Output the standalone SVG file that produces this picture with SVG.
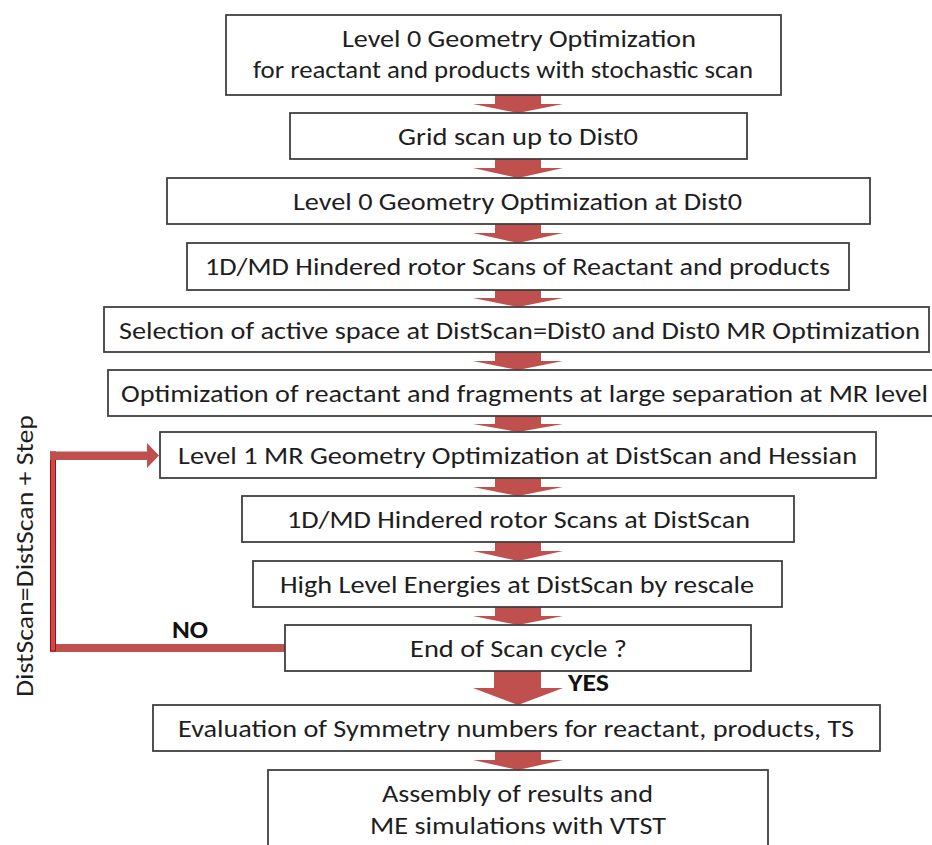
<svg xmlns="http://www.w3.org/2000/svg" width="932" height="845" viewBox="0 0 932 845">
  <style>
    .box { fill: #ffffff; stroke: #404040; stroke-width: 1.8; }
    .lbl { font-family: Carlito, Lato, "Open Sans", sans-serif; font-size: 25px; fill: #1e1e1e; }
    .bold { font-family: Carlito, Lato, "Open Sans", sans-serif; font-size: 24px; font-weight: bold; fill: #111111; }
    .flow { fill: #c0504d; }
  </style>

  <!-- connectors: block arrows between steps and the scan loop -->
  <g id="connectors">
    <path class="flow" d="M495,95 H541 V104 H563 L518,113 L473,104 H495 Z"/>
    <path class="flow" d="M495,159 H541 V168 H563 L518,178 L473,168 H495 Z"/>
    <path class="flow" d="M495,224 H541 V233 H563 L518,243 L473,233 H495 Z"/>
    <path class="flow" d="M495,290 H541 V298 H563 L518,307 L473,298 H495 Z"/>
    <path class="flow" d="M495,352 H541 V361 H563 L518,370 L473,361 H495 Z"/>
    <path class="flow" d="M495,416 H541 V424 H563 L518,432 L473,424 H495 Z"/>
    <path class="flow" d="M495,478 H541 V487 H563 L518,496 L473,487 H495 Z"/>
    <path class="flow" d="M495,542 H541 V551 H563 L518,561 L473,551 H495 Z"/>
    <path class="flow" d="M495,607 H541 V616 H563 L518,625 L473,616 H495 Z"/>
    <path class="flow" d="M494,671 H541 V688 H563 L518,705 L473,688 H494 Z"/>
    <path class="flow" d="M495,751 H541 V760 H563 L518,770 L473,760 H495 Z"/>

    <!-- loop back: NO branch returns to the MR optimization step -->
    <rect class="flow" x="50" y="644" width="236" height="8"/>
    <rect x="50.5" y="452" width="5" height="199" fill="#c0504d" stroke="#c00000" stroke-width="1"/>
    <path class="flow" d="M50,451.5 H147 V443 L159,455.5 L147,468 V460 H50 Z"/>
    <text class="bold" x="172" y="638" textLength="36" lengthAdjust="spacingAndGlyphs">NO</text>
    <text class="bold" x="568" y="691" textLength="41" lengthAdjust="spacingAndGlyphs">YES</text>
    <text class="lbl" transform="translate(33,556) rotate(-90)" text-anchor="middle" textLength="282" lengthAdjust="spacingAndGlyphs">DistScan=DistScan + Step</text>
  </g>

  <g id="n1">
    <rect class="box" x="226" y="15" width="555" height="80"/>
    <text class="lbl" x="342" y="47" textLength="354" lengthAdjust="spacingAndGlyphs">Level 0 Geometry Optimization</text>
    <text class="lbl" x="253" y="78" textLength="500" lengthAdjust="spacingAndGlyphs">for reactant and products with stochastic scan</text>
  </g>
  <g id="n2">
    <rect class="box" x="290" y="113" width="457" height="46"/>
    <text class="lbl" x="398" y="145" textLength="240" lengthAdjust="spacingAndGlyphs">Grid scan up to Dist0</text>
  </g>
  <g id="n3">
    <rect class="box" x="167" y="178" width="703" height="46"/>
    <text class="lbl" x="293" y="210" textLength="449" lengthAdjust="spacingAndGlyphs">Level 0 Geometry Optimization at Dist0</text>
  </g>
  <g id="n4">
    <rect class="box" x="187" y="243" width="662" height="47"/>
    <text class="lbl" x="205" y="275" textLength="625" lengthAdjust="spacingAndGlyphs">1D/MD Hindered rotor Scans of Reactant and products</text>
  </g>
  <g id="n5">
    <rect class="box" x="104" y="307" width="825" height="45"/>
    <text class="lbl" x="119" y="339" textLength="801" lengthAdjust="spacingAndGlyphs">Selection of active space at DistScan=Dist0 and Dist0 MR Optimization</text>
  </g>
  <g id="n6">
    <rect class="box" x="108" y="370" width="826" height="46"/>
    <text class="lbl" x="121" y="402" textLength="807" lengthAdjust="spacingAndGlyphs">Optimization of reactant and fragments at large separation at MR level</text>
  </g>
  <g id="n7">
    <rect class="box" x="160" y="432" width="716" height="46"/>
    <text class="lbl" x="178" y="464" textLength="679" lengthAdjust="spacingAndGlyphs">Level 1 MR Geometry Optimization at DistScan and Hessian</text>
  </g>
  <g id="n8">
    <rect class="box" x="242" y="496" width="552" height="46"/>
    <text class="lbl" x="287" y="528" textLength="463" lengthAdjust="spacingAndGlyphs">1D/MD Hindered rotor Scans at DistScan</text>
  </g>
  <g id="n9">
    <rect class="box" x="253" y="561" width="529" height="46"/>
    <text class="lbl" x="280" y="593" textLength="474" lengthAdjust="spacingAndGlyphs">High Level Energies at DistScan by rescale</text>
  </g>
  <g id="n10">
    <rect class="box" x="285" y="625" width="466" height="46"/>
    <text class="lbl" x="410" y="657" textLength="217" lengthAdjust="spacingAndGlyphs">End of Scan cycle ?</text>
  </g>
  <g id="n11">
    <rect class="box" x="153" y="705" width="727" height="46"/>
    <text class="lbl" x="178" y="737" textLength="676" lengthAdjust="spacingAndGlyphs">Evaluation of Symmetry numbers for reactant, products, TS</text>
  </g>
  <g id="n12">
    <rect class="box" x="268" y="770" width="500" height="90"/>
    <text class="lbl" x="382" y="802" textLength="271" lengthAdjust="spacingAndGlyphs">Assembly of results and</text>
    <text class="lbl" x="370" y="834" textLength="296" lengthAdjust="spacingAndGlyphs">ME simulations with VTST</text>
  </g>
</svg>
